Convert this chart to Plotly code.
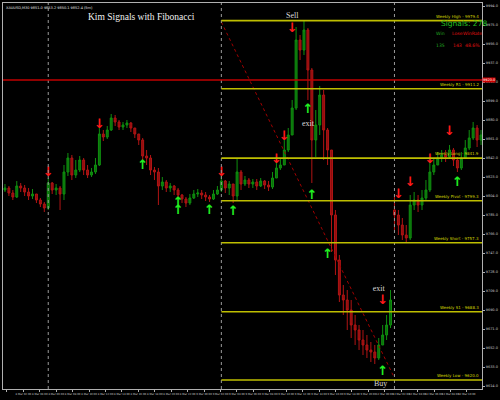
import plotly.graph_objects as go

# ---------------- data ----------------
first_open = 9810
closes = [9812, 9807, 9803, 9814, 9812, 9808, 9804, 9806, 9800, 9796,
          9792, 9817, 9810, 9812, 9806, 9828, 9842, 9825, 9830, 9840,
          9830, 9825, 9828, 9835, 9866, 9863, 9870, 9882, 9878, 9873,
          9875, 9877, 9872, 9866, 9860, 9844, 9842, 9830, 9828, 9814,
          9818, 9812, 9814, 9810, 9805, 9801, 9797, 9802, 9806, 9807,
          9805, 9803, 9801, 9806, 9810, 9819, 9812, 9816, 9804, 9828,
          9816, 9820, 9816, 9818, 9814, 9819, 9815, 9813, 9822, 9832,
          9835, 9850, 9865, 9892, 9960, 9950, 9970, 9930, 9860, 9875,
          9905, 9870, 9850, 9785, 9740, 9705, 9700, 9690, 9675, 9670,
          9660, 9655, 9650, 9648, 9642, 9655, 9665, 9675, 9700, 9785,
          9775, 9765, 9762, 9795, 9800, 9795, 9802, 9810, 9828, 9835,
          9842, 9845, 9843, 9850, 9840, 9832, 9842, 9852, 9862, 9872,
          9860, 9865]
highs = [9816, 9814, 9810, 9819, 9817, 9815, 9812, 9811, 9806, 9802,
         9798, 9822, 9818, 9816, 9814, 9835, 9847, 9845, 9840, 9844,
         9842, 9835, 9832, 9842, 9872, 9870, 9874, 9886, 9885, 9880,
         9878, 9880, 9878, 9872, 9866, 9862, 9850, 9845, 9833, 9832,
         9823, 9820, 9817, 9815, 9812, 9806, 9803, 9806, 9810, 9811,
         9810, 9808, 9805, 9810, 9814, 9824, 9820, 9819, 9816, 9842,
         9830, 9824, 9822, 9821, 9821, 9822, 9820, 9819, 9828, 9838,
         9842, 9860, 9872, 9900, 9973, 9965, 9980, 9972, 9932, 9890,
         9914, 9910, 9872, 9850, 9790, 9745, 9715, 9710, 9700, 9685,
         9675, 9670, 9665, 9658, 9655, 9662, 9675, 9685, 9710, 9803,
         9790, 9782, 9775, 9805, 9808, 9805, 9810, 9820, 9838, 9842,
         9848, 9850, 9850, 9855, 9852, 9843, 9848, 9860, 9870, 9878,
         9875, 9870]
lows = [9808, 9804, 9800, 9802, 9808, 9804, 9800, 9801, 9797, 9793,
        9788, 9790, 9806, 9805, 9790, 9800, 9824, 9820, 9822, 9828,
        9825, 9822, 9823, 9826, 9834, 9859, 9861, 9869, 9874, 9870,
        9870, 9872, 9868, 9862, 9855, 9840, 9835, 9825, 9820, 9795,
        9810, 9808, 9808, 9805, 9802, 9797, 9793, 9795, 9801, 9803,
        9801, 9799, 9798, 9800, 9805, 9808, 9807, 9805, 9797, 9800,
        9810, 9814, 9812, 9812, 9810, 9813, 9811, 9809, 9811, 9822,
        9830, 9835, 9848, 9865, 9890, 9940, 9945, 9900, 9817, 9843,
        9865, 9840, 9835, 9748, 9725, 9698, 9685, 9670, 9662, 9655,
        9650, 9645, 9642, 9638, 9636, 9640, 9655, 9660, 9672, 9770,
        9765, 9760, 9757, 9760, 9790, 9788, 9790, 9800, 9808, 9825,
        9835, 9838, 9838, 9842, 9834, 9828, 9830, 9842, 9850, 9860,
        9853, 9855]
gap_opens = {99: 9790}   # weekly gap open

week_separators = [11, 55, 99]

fib_names = ["Weekly High", "Weekly R1", "Weekly Long", "Weekly Pivot",
             "Weekly Short", "Weekly S1", "Weekly Low"]
fib_levels = [9979.4, 9911.2, 9841.9, 9799.3, 9757.3, 9688.3, 9620.0]
fib_start_bar = 55

current_price = 9920.0
trend_bars = [55, 99]
trend_prices = [9978, 9622]

sell_bars = [11, 24, 55, 69, 71, 73, 96, 100, 103, 108, 113]
sell_prices = [9827, 9875, 9827, 9840, 9863, 9971, 9699, 9805, 9817, 9840, 9868]
buy_bars = [35, 44, 44, 52, 58, 77, 78, 82, 96, 115]
buy_prices = [9834, 9797, 9789, 9789, 9788, 9890, 9804, 9745, 9628, 9817]

label_bars = [73, 77, 95, 95.5]
label_prices = [9984, 9876, 9711, 9616]
label_texts = ["Sell", "exit", "exit", "Buy"]

signals_total = 278
wins = 135
losses = 143
win_rate = "48.6%"

xtick_labels = ["8 Mar 2018", "8 Mar 02:00", "8 Mar 04:00", "8 Mar 06:00", "8 Mar 08:00",
                "8 Mar 10:00", "8 Mar 12:00", "8 Mar 14:00", "8 Mar 16:00", "8 Mar 18:00",
                "8 Mar 20:00", "8 Mar 22:00", "9 Mar 00:00", "9 Mar 02:00", "9 Mar 04:00",
                "9 Mar 06:00", "9 Mar 08:00", "9 Mar 10:00", "9 Mar 12:00", "9 Mar 14:00",
                "9 Mar 16:00", "9 Mar 18:00", "9 Mar 20:00", "12 Mar 00:00", "12 Mar 02:00",
                "12 Mar 04:00", "12 Mar 06:00", "12 Mar 08:00", "12 Mar 10:00"]
xtick_step = 4.175
ytick_start = 9614
ytick_step = 19

# ---------------- build ----------------
n = len(closes)
bars = list(range(n))
opens = [first_open] + closes[:-1]
for k, v in gap_opens.items():
    opens[k] = v

fig = go.Figure()
fig.add_trace(go.Candlestick(
    x=bars, open=opens, high=highs, low=lows, close=closes,
    increasing=dict(line=dict(color="#0f8f0f", width=1), fillcolor="#0c6e0c"),
    decreasing=dict(line=dict(color="#b01414", width=1), fillcolor="#8e0e0e"),
    whiskerwidth=0, hoverinfo="skip", showlegend=False))

# trend line
fig.add_trace(go.Scatter(x=trend_bars, y=trend_prices, mode="lines",
                         line=dict(color="#a00000", width=1, dash="dot"),
                         hoverinfo="skip", showlegend=False))

# arrows
fig.add_trace(go.Scatter(x=sell_bars, y=sell_prices, mode="text", text=["↓"] * len(sell_bars),
                         textfont=dict(family="DejaVu Sans", size=13, color="#ff1a1a", weight="bold"),
                         hoverinfo="skip", showlegend=False))
fig.add_trace(go.Scatter(x=buy_bars, y=buy_prices, mode="text", text=["↑"] * len(buy_bars),
                         textfont=dict(family="DejaVu Sans", size=13, color="#22ee22", weight="bold"),
                         hoverinfo="skip", showlegend=False))
fig.add_trace(go.Scatter(x=label_bars, y=label_prices, mode="text", text=label_texts,
                         textfont=dict(family="Liberation Serif", size=8, color="#d8d8d8"),
                         hoverinfo="skip", showlegend=False))

shapes = []
for b in week_separators:
    shapes.append(dict(type="line", xref="x", yref="paper", x0=b, x1=b, y0=0, y1=1,
                       line=dict(color="#9a9a9a", width=1, dash="dot")))
for lvl in fib_levels:
    shapes.append(dict(type="line", xref="x", yref="y", x0=fib_start_bar, x1=n - 0.75,
                       y0=lvl, y1=lvl, line=dict(color="#bebe00", width=1.6)))
shapes.append(dict(type="line", xref="paper", yref="y", x0=0, x1=1, y0=current_price,
                   y1=current_price, line=dict(color="#c00000", width=1.6)))

annotations = []
for name, lvl in zip(fib_names, fib_levels):
    annotations.append(dict(xref="paper", yref="y", x=0.998, y=lvl, xanchor="right",
                            yanchor="bottom", showarrow=False,
                            text=f"{name} - {lvl:.1f}",
                            font=dict(family="DejaVu Sans", size=4, color="#d4d400")))
annotations.append(dict(xref="paper", yref="y", x=1.0, y=current_price, xanchor="left",
                        yanchor="middle", showarrow=False, text=f"{current_price:.1f}",
                        bgcolor="#d00000", borderpad=0,
                        font=dict(family="DejaVu Sans", size=3.5, color="white")))
annotations.append(dict(xref="paper", yref="paper", x=0.29, y=0.965, xanchor="center",
                        yanchor="middle", showarrow=False, text="Kim Signals with Fibonacci",
                        font=dict(family="Liberation Serif", size=9.5, color="#f0f0f0")))
annotations.append(dict(xref="paper", yref="paper", x=0.002, y=0.997, xanchor="left",
                        yanchor="top", showarrow=False,
                        text="XAUUSD,M30 9851.0 9853.2 9850.1 9852.4 (5m)",
                        font=dict(family="DejaVu Sans", size=3.5, color="#e0e0e0")))
annotations.append(dict(xref="paper", yref="paper", x=0.963, y=0.946, xanchor="center",
                        yanchor="middle", showarrow=False, text=f"Signals: {signals_total}",
                        font=dict(family="DejaVu Sans", size=7.5, color="#22c022")))
row1 = [("Win", 0.914, "#20a820"), ("Lose", 0.948, "#e01010"), ("WinRate", 0.981, "#e01010")]
row2 = [(str(wins), 0.914, "#20a820"), (str(losses), 0.948, "#e01010"), (win_rate, 0.981, "#e01010")]
for txt, xp, col in row1:
    annotations.append(dict(xref="paper", yref="paper", x=xp, y=0.920, xanchor="center",
                            yanchor="middle", showarrow=False, text=txt,
                            font=dict(family="DejaVu Sans", size=4.6, color=col)))
for txt, xp, col in row2:
    annotations.append(dict(xref="paper", yref="paper", x=xp, y=0.889, xanchor="center",
                            yanchor="middle", showarrow=False, text=txt,
                            font=dict(family="DejaVu Sans", size=4.6, color=col)))

yticks = [ytick_start + ytick_step * k for k in range(21)]
xticks = [0.5 + xtick_step * k for k in range(len(xtick_labels))]

fig.update_layout(
    width=500, height=400,
    margin=dict(l=2, r=11, t=3, b=11),
    paper_bgcolor="black", plot_bgcolor="black",
    shapes=shapes, annotations=annotations,
    xaxis=dict(range=[-0.5, 121.25], rangeslider=dict(visible=False), showgrid=False,
               zeroline=False, showline=True, linecolor="#b0b0b0", linewidth=1, mirror=True,
               tickvals=xticks, ticktext=xtick_labels, tickangle=0,
               ticks="outside", ticklen=2, tickcolor="#b0b0b0",
               tickfont=dict(family="DejaVu Sans", size=2.6, color="#c8c8c8")),
    yaxis=dict(range=[9611, 9997], side="right", showgrid=False, zeroline=False,
               showline=True, linecolor="#b0b0b0", linewidth=1, mirror=True,
               tickvals=yticks, tickformat=".1f", ticks="outside", ticklen=2,
               tickcolor="#b0b0b0",
               tickfont=dict(family="DejaVu Sans", size=3.5, color="#c8c8c8")),
)

fig.write_html("out.html", config={"displayModeBar": False},
               post_script="document.body.style.margin='0px';document.body.style.overflow='hidden';")
